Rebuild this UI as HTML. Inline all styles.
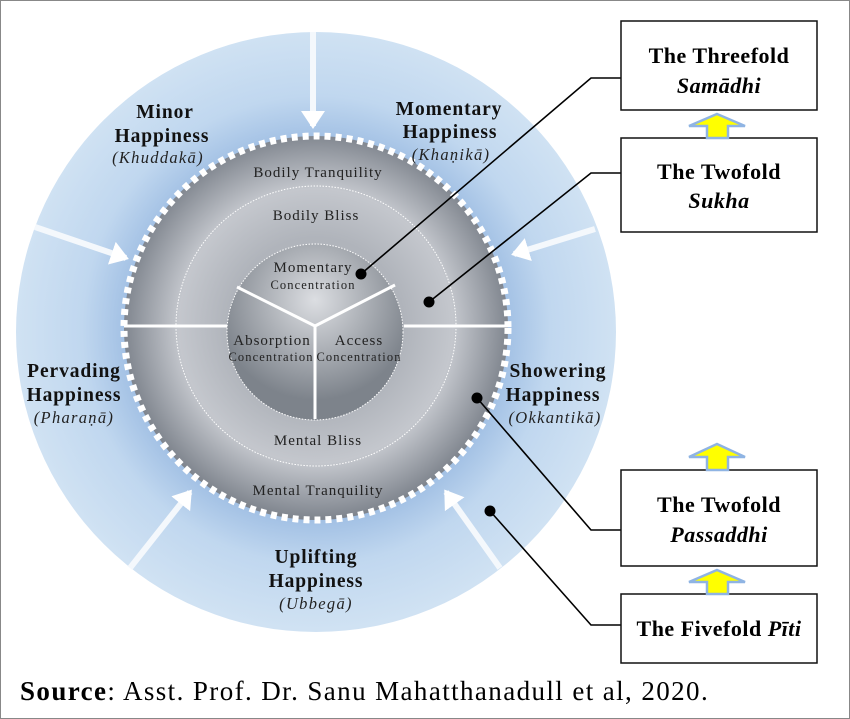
<!DOCTYPE html>
<html><head><meta charset="utf-8"><style>
html,body{margin:0;padding:0;background:#fff}
svg{display:block}
text{font-family:"Liberation Serif",serif}
</style></head><body>
<svg width="850" height="719" viewBox="0 0 850 719" xmlns="http://www.w3.org/2000/svg">
<defs>
<radialGradient id="og" cx="316" cy="330" r="300" gradientUnits="userSpaceOnUse">
<stop offset="0.62" stop-color="#9fbee3"/>
<stop offset="0.78" stop-color="#c0d7ef"/>
<stop offset="1" stop-color="#d0e2f3"/>
</radialGradient>
<radialGradient id="dg" cx="316" cy="326" r="196" gradientUnits="userSpaceOnUse">
<stop offset="0.45" stop-color="#b0b4bb"/>
<stop offset="0.7" stop-color="#c4c7cd"/>
<stop offset="1" stop-color="#7b818a"/>
</radialGradient>
<radialGradient id="cg" cx="315" cy="300" r="100" gradientUnits="userSpaceOnUse">
<stop offset="0" stop-color="#dcdee2"/>
<stop offset="1" stop-color="#7d838b"/>
</radialGradient>
<marker id="ah" markerWidth="4" markerHeight="4" refX="2.5" refY="2" orient="auto" markerUnits="strokeWidth">
<path d="M0,0 L3,2 L0,4 z" fill="#fff"/>
</marker>
</defs>
<rect x="0.5" y="0.5" width="849" height="718" fill="#fff" stroke="#888"/>
<circle cx="316" cy="332" r="300" fill="url(#og)"/>
<g stroke="#f4f8fc" stroke-width="6" fill="none" marker-end="url(#ah)">
<line x1="313" y1="32" x2="313" y2="126"/>
<line x1="35" y1="227" x2="126" y2="258"/>
<line x1="595" y1="229" x2="514" y2="254"/>
<line x1="130" y1="568" x2="190" y2="492"/>
<line x1="500" y1="568" x2="446" y2="492"/>
</g>
<circle cx="316" cy="328" r="192" fill="url(#dg)" stroke="#fff" stroke-width="7" stroke-dasharray="6 5"/>
<circle cx="316" cy="326" r="140" fill="none" stroke="#fff" stroke-width="1" stroke-dasharray="1.5 1.5"/>
<circle cx="315" cy="332" r="88" fill="url(#cg)" stroke="#fff" stroke-width="1" stroke-dasharray="1.5 1.5"/>
<g stroke="#fff" stroke-width="3">
<line x1="124" y1="326" x2="227" y2="326"/>
<line x1="404" y1="326" x2="508" y2="326"/>
<line x1="315" y1="326" x2="237" y2="287"/>
<line x1="315" y1="326" x2="395" y2="285"/>
<line x1="315" y1="326" x2="315" y2="419"/>
</g>
<g font-size="19.5" font-weight="bold" text-anchor="middle" fill="#111" letter-spacing="0.9">
<text x="165" y="118">Minor</text><text x="162" y="142">Happiness</text>
<text x="449" y="115">Momentary</text><text x="450" y="138">Happiness</text>
<text x="74" y="377">Pervading</text><text x="74" y="401">Happiness</text>
<text x="558" y="377">Showering</text><text x="553" y="401">Happiness</text>
<text x="316" y="563">Uplifting</text><text x="316" y="587">Happiness</text>
</g>
<g font-size="16.5" font-style="italic" text-anchor="middle" fill="#222" letter-spacing="1.3">
<text x="158" y="163">(Khuddakā)</text>
<text x="451" y="160">(Khaṇikā)</text>
<text x="74" y="423">(Pharaṇā)</text>
<text x="555" y="423">(Okkantikā)</text>
<text x="316" y="609">(Ubbegā)</text>
</g>
<g font-size="15" text-anchor="middle" fill="#222" letter-spacing="1">
<text x="318" y="177">Bodily Tranquility</text>
<text x="316" y="220">Bodily Bliss</text>
<text x="318" y="445">Mental Bliss</text>
<text x="318" y="495">Mental Tranquility</text>
<text x="313" y="272">Momentary</text>
<text x="272" y="345">Absorption</text>
<text x="359" y="345">Access</text>
</g>
<g font-size="12.5" text-anchor="middle" fill="#222" letter-spacing="1.1">
<text x="313" y="289">Concentration</text>
<text x="271" y="361">Concentration</text>
<text x="359" y="361">Concentration</text>
</g>
<g stroke="#000" stroke-width="1.6" fill="none">
<polyline points="361,274 591,78 621,78"/>
<polyline points="429,302 591,173 621,173"/>
<polyline points="477,398 591,530 621,530"/>
<polyline points="490,511 591,625 621,625"/>
</g>
<g fill="#000">
<circle cx="361" cy="274" r="5.5"/><circle cx="429" cy="302" r="5.5"/>
<circle cx="477" cy="398" r="5.5"/><circle cx="490" cy="511" r="5.5"/>
</g>
<g fill="#fff" stroke="#111" stroke-width="1.5">
<rect x="621" y="21" width="196" height="89"/>
<rect x="621" y="138" width="196" height="94"/>
<rect x="621" y="470" width="196" height="96"/>
<rect x="621" y="594" width="196" height="69"/>
</g>
<g fill="#ffff00" stroke="#8fb4e3" stroke-width="2.5" stroke-linejoin="miter">
<path d="M717,114 L745,126 L728,126 L728,138 L707,138 L707,126 L689,126 z"/>
<path d="M717,444 L745,457 L728,457 L728,470 L707,470 L707,457 L689,457 z"/>
<path d="M717,570 L745,582 L728,582 L728,594 L707,594 L707,582 L689,582 z"/>
</g>
<g font-size="22" font-weight="bold" text-anchor="middle" fill="#000" letter-spacing="0.5">
<text x="719" y="63">The Threefold</text>
<text x="719" y="93" font-style="italic">Samādhi</text>
<text x="719" y="179">The Twofold</text>
<text x="719" y="208" font-style="italic">Sukha</text>
<text x="719" y="512">The Twofold</text>
<text x="719" y="542" font-style="italic">Passaddhi</text>
<text x="719" y="636">The Fivefold <tspan font-style="italic">Pīti</tspan></text>
</g>
<text x="20" y="700" font-size="27" fill="#000" letter-spacing="1.4"><tspan font-weight="bold">Source</tspan>: Asst. Prof. Dr. Sanu Mahatthanadull et al, 2020.</text>
</svg>
</body></html>
